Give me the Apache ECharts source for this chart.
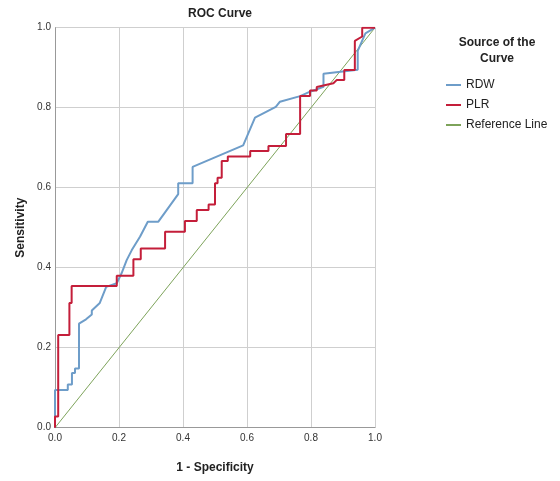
<!DOCTYPE html>
<html>
<head>
<meta charset="utf-8">
<script src="https://cdn.jsdelivr.net/npm/echarts@6/dist/echarts.min.js"></script>
<style>
html, body { margin: 0; padding: 0; background: #fff; }
#chart { width: 560px; height: 481px; }
</style>
</head>
<body>
<div id="chart"></div>
<script>
var myChart;//图表

// ROC 曲线数据 [1 - Specificity, Sensitivity]
var rdwPoints = [
    [0, 0], [0, 0.094], [0.040, 0.094], [0.040, 0.108], [0.053, 0.108], [0.053, 0.137],
    [0.0625, 0.137], [0.0625, 0.148], [0.075, 0.148], [0.075, 0.26], [0.097, 0.271],
    [0.115, 0.283], [0.115, 0.293], [0.14, 0.312], [0.16, 0.352], [0.193, 0.361],
    [0.208, 0.386], [0.224, 0.419], [0.24, 0.444], [0.266, 0.478], [0.29, 0.515],
    [0.323, 0.515], [0.349, 0.544], [0.385, 0.584], [0.385, 0.611], [0.43, 0.611],
    [0.43, 0.652], [0.588, 0.706], [0.625, 0.775], [0.69, 0.802], [0.703, 0.815],
    [0.766, 0.829], [0.797, 0.84], [0.839, 0.852], [0.839, 0.885], [0.946, 0.895],
    [0.946, 0.942], [0.97, 0.986], [1, 1]
];

var plrPoints = [
    [0, 0], [0, 0.028], [0.01, 0.028], [0.01, 0.232], [0.045, 0.232], [0.045, 0.312],
    [0.052, 0.312], [0.052, 0.354], [0.193, 0.354], [0.193, 0.38], [0.245, 0.38],
    [0.245, 0.421], [0.268, 0.421], [0.268, 0.448], [0.344, 0.448], [0.344, 0.49],
    [0.406, 0.49], [0.406, 0.517], [0.443, 0.517], [0.443, 0.544], [0.48, 0.544],
    [0.48, 0.558], [0.5, 0.558], [0.5, 0.611], [0.508, 0.611], [0.508, 0.625],
    [0.521, 0.625], [0.521, 0.667], [0.54, 0.667], [0.54, 0.678], [0.61, 0.678],
    [0.61, 0.692], [0.667, 0.692], [0.667, 0.704], [0.722, 0.704], [0.722, 0.734],
    [0.766, 0.734], [0.766, 0.829], [0.797, 0.829], [0.797, 0.843], [0.818, 0.843],
    [0.818, 0.852], [0.87, 0.861], [0.88, 0.869], [0.904, 0.869], [0.904, 0.894],
    [0.937, 0.894], [0.937, 0.967], [0.96, 0.978], [0.96, 1.0], [1, 1]
];

var refPoints = [[0, 0], [1, 1]];

var seriesNames = ['RDW', 'PLR', 'Reference Line'];
var seriesColors = ['#6e9dc9', '#c41e3a', '#7da35a'];

function initChart() {
    myChart = echarts.init(document.getElementById('chart'));

    var axisLabelFmt = function (v) { return v.toFixed(1); };

    var option = {
        backgroundColor: '#fff',
        animation: false,
        title: [
            {
                text: 'ROC Curve',
                left: 215,
                top: 3,
                textAlign: 'center',
                textStyle: { fontFamily: 'Liberation Sans', fontSize: 12, fontWeight: 'bold', color: '#222' }
            },
            {
                text: 'Source of the\nCurve',
                left: 492,
                top: 30,
                textAlign: 'center',
                textStyle: { fontFamily: 'Liberation Sans', fontSize: 12, fontWeight: 'bold', color: '#222', lineHeight: 16 }
            }
        ],
        legend: {
            orient: 'vertical',
            left: 441,
            top: 73,
            icon: 'rect',
            itemWidth: 15,
            itemHeight: 2,
            itemGap: 6,
            textStyle: { fontFamily: 'Liberation Sans', fontSize: 12, color: '#222', lineHeight: 14 },
            data: seriesNames
        },
        grid: {
            left: 55,
            right: 185,
            top: 27.7,
            bottom: 53.3,
            containLabel: false
        },
        xAxis: {
            type: 'value',
            min: 0,
            max: 1,
            interval: 0.2,
            name: '1 - Specificity',
            nameLocation: 'middle',
            nameGap: 34,
            nameTextStyle: { fontFamily: 'Liberation Sans', fontSize: 12, fontWeight: 'bold', color: '#222' },
            axisLine: { lineStyle: { color: '#999' } },
            axisTick: { show: false },
            axisLabel: { formatter: axisLabelFmt, fontFamily: 'Liberation Sans', fontSize: 10, color: '#333', margin: 6 },
            splitLine: { lineStyle: { color: '#cfcfcf' } }
        },
        yAxis: {
            type: 'value',
            min: 0,
            max: 1,
            interval: 0.2,
            name: 'Sensitivity',
            nameLocation: 'middle',
            nameGap: 28,
            nameTextStyle: { fontFamily: 'Liberation Sans', fontSize: 12, fontWeight: 'bold', color: '#222' },
            axisLine: { show: true, lineStyle: { color: '#999' } },
            axisTick: { show: false },
            axisLabel: { formatter: axisLabelFmt, fontFamily: 'Liberation Sans', fontSize: 10, color: '#333', margin: 4 },
            splitLine: { lineStyle: { color: '#cfcfcf' } }
        },
        series: [
            {
                name: seriesNames[0],
                type: 'line',
                symbol: 'none',
                z: 3,
                color: seriesColors[0],
                lineStyle: { width: 2, color: seriesColors[0] },
                data: rdwPoints
            },
            {
                name: seriesNames[1],
                type: 'line',
                symbol: 'none',
                z: 4,
                color: seriesColors[1],
                lineStyle: { width: 2, color: seriesColors[1] },
                data: plrPoints
            },
            {
                name: seriesNames[2],
                type: 'line',
                symbol: 'none',
                z: 2,
                color: seriesColors[2],
                lineStyle: { width: 1, color: seriesColors[2] },
                data: refPoints
            }
        ]
    };

    myChart.setOption(option);
}

initChart();
</script>
</body>
</html>
